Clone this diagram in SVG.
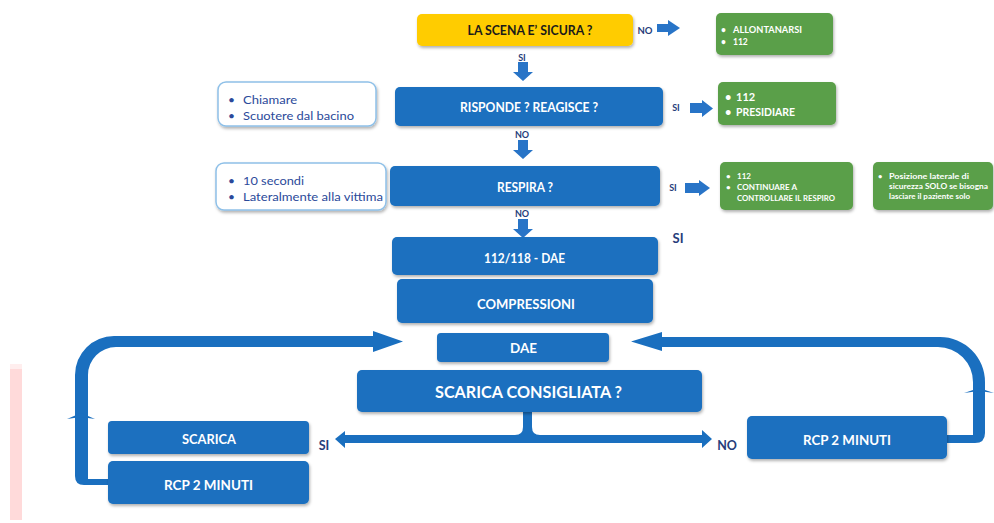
<svg xmlns="http://www.w3.org/2000/svg" width="994" height="523" viewBox="0 0 994 523">
<defs>
<filter id="sh" x="-10%" y="-20%" width="120%" height="150%">
<feDropShadow dx="1" dy="2" stdDeviation="1.6" flood-color="#000" flood-opacity="0.3"/>
</filter>
<style>
.blue{fill:#1a6fbf;filter:url(#sh)}
.green{fill:#5a9f48;filter:url(#sh)}
.yellow{fill:#ffcc00;filter:url(#sh)}
.white{fill:#fff;stroke:#8ec0e8;stroke-width:1.5;filter:url(#sh)}
.t{font-family:Lato,"Liberation Sans",sans-serif;font-weight:bold;fill:#fff;text-anchor:middle}
.tk{font-family:Lato,"Liberation Sans",sans-serif;font-weight:bold;fill:#1a1a1a;text-anchor:middle}
.g{font-family:Lato,"Liberation Sans",sans-serif;font-weight:bold;fill:#fff}
.w{font-family:Lato,"Liberation Sans",sans-serif;font-size:12px;fill:#2b4a9a}
.lb{font-family:Lato,"Liberation Sans",sans-serif;font-weight:bold;fill:#263d7a;text-anchor:middle}
.arr{fill:#2874c7}
.loop{fill:#1a6fbf}
</style>
</defs>
<rect x="10" y="364" width="12" height="6" fill="#ffeeee"/>
<rect x="10" y="369" width="12" height="151" fill="#ffdada"/>

<g id="connectors">
<polygon class="arr" points="657,24 668,24 668,20 680,28 668,36 668,32 657,32"/>
<polygon class="arr" points="518,62 528,62 528,72 533,72 523,81 513,72 518,72"/>
<polygon class="arr" points="690,103 702,103 702,100 713,108.5 702,117 702,113 690,113"/>
<polygon class="arr" points="518,140 528,140 528,150 533,150 523,159 513,150 518,150"/>
<polygon class="arr" points="685,183 699,183 699,180 710,188 699,196 699,193 685,193"/>
<polygon class="arr" points="518,219 528,219 528,229 533,229 523,238 513,229 518,229"/>
<path class="loop" d="M119,485 L84,485 Q75,485 75,476 L75,375 A39,39 0 0 1 114,336 L373,336 L373,331 L403,341.5 L373,352 L373,347 L116,347 A28,28 0 0 0 88,375 L88,479 L119,479 Z"/>
<rect x="110" y="479" width="9" height="6" fill="#4d8fd6"/>
<polygon class="loop" points="67,419 81,413 95,419 81,417"/>
<path class="loop" d="M947,435 L973,435 L973,382 A35,35 0 0 0 938,347 L662,347 L662,351 L631,341.5 L662,332 L662,337 L940,337 A45,45 0 0 1 985,382 L985,433 Q985,443 975,443 L947,443 Z"/>
<polygon class="loop" points="964,393 979,388 994,393 979,391"/>
<path class="loop" d="M523,411 L523,427 Q523,435 515,435 L345,435 L345,431 L335,439 L345,448 L345,443 L702,443 L702,448 L712,439 L702,430 L702,435 L540,435 Q532,435 532,427 L532,411 Z"/>
</g>

<g id="labels">
<text class="lb" x="645" y="33.5" font-size="9.5">NO</text>
<text class="lb" x="522" y="60.5" font-size="9">SI</text>
<text class="lb" x="676" y="111" font-size="9">SI</text>
<text class="lb" x="522" y="137.5" font-size="9">NO</text>
<text class="lb" x="673" y="191" font-size="9">SI</text>
<text class="lb" x="522" y="216.5" font-size="9">NO</text>
<text class="lb" x="678" y="243" font-size="13">SI</text>
<text class="lb" x="324" y="450" font-size="12.5">SI</text>
<text class="lb" x="727" y="449.5" font-size="12.5">NO</text>
</g>

<g id="n-scena">
<rect class="yellow" x="417" y="14" width="216" height="32" rx="5"/>
<text class="tk" x="530" y="34.5" font-size="12.5" textLength="125" lengthAdjust="spacingAndGlyphs">LA SCENA E’ SICURA ?</text>
</g>
<g id="n-allontanarsi">
<rect class="green" x="716" y="13" width="117" height="42" rx="5"/>
<text class="g" x="721" y="33" font-size="8.5">•</text>
<text class="g" x="733" y="33" font-size="8.5" textLength="69" lengthAdjust="spacingAndGlyphs">ALLONTANARSI</text>
<text class="g" x="721" y="45" font-size="8.5">•</text>
<text class="g" x="733" y="45" font-size="8.5">112</text>
</g>
<g id="n-chiamare">
<rect class="white" x="218" y="82" width="158" height="44" rx="8"/>
<text class="w" x="228" y="104">•</text>
<text class="w" x="243" y="104" textLength="54" lengthAdjust="spacingAndGlyphs">Chiamare</text>
<text class="w" x="228" y="120">•</text>
<text class="w" x="243" y="120" textLength="111" lengthAdjust="spacingAndGlyphs">Scuotere dal bacino</text>
</g>
<g id="n-risponde">
<rect class="blue" x="395" y="87" width="268" height="39" rx="5"/>
<text class="t" x="529" y="111.5" font-size="12.5" textLength="138" lengthAdjust="spacingAndGlyphs">RISPONDE ? REAGISCE ?</text>
</g>
<g id="n-presidiare">
<rect class="green" x="718" y="82" width="118" height="43" rx="5"/>
<text class="g" x="725" y="101" font-size="11">•</text>
<text class="g" x="736" y="101" font-size="11">112</text>
<text class="g" x="725" y="116" font-size="11">•</text>
<text class="g" x="736" y="116" font-size="11" textLength="59" lengthAdjust="spacingAndGlyphs">PRESIDIARE</text>
</g>
<g id="n-secondi">
<rect class="white" x="216" y="163" width="170" height="47" rx="8"/>
<text class="w" x="228" y="185">•</text>
<text class="w" x="243" y="185" textLength="61" lengthAdjust="spacingAndGlyphs">10 secondi</text>
<text class="w" x="228" y="201">•</text>
<text class="w" x="243" y="201" textLength="140" lengthAdjust="spacingAndGlyphs">Lateralmente alla vittima</text>
</g>
<g id="n-respira">
<rect class="blue" x="390" y="166" width="270" height="40" rx="5"/>
<text class="t" x="525" y="191.5" font-size="12.5" textLength="56" lengthAdjust="spacingAndGlyphs">RESPIRA ?</text>
</g>
<g id="n-continuare">
<rect class="green" x="720" y="162" width="133" height="48" rx="5"/>
<text class="g" x="726" y="179" font-size="8">•</text>
<text class="g" x="737" y="179" font-size="8">112</text>
<text class="g" x="726" y="190" font-size="8">•</text>
<text class="g" x="737" y="190" font-size="8" textLength="60" lengthAdjust="spacingAndGlyphs">CONTINUARE A</text>
<text class="g" x="737" y="201" font-size="8" textLength="98" lengthAdjust="spacingAndGlyphs">CONTROLLARE IL RESPIRO</text>
</g>
<g id="n-posizione">
<rect class="green" x="873" y="162" width="120" height="48" rx="5"/>
<text class="g" x="878" y="179" font-size="7.5">•</text>
<text class="g" x="889" y="179" font-size="7.5" textLength="80" lengthAdjust="spacingAndGlyphs">Posizione laterale di</text>
<text class="g" x="889" y="189" font-size="7.5" textLength="99" lengthAdjust="spacingAndGlyphs">sicurezza SOLO se bisogna</text>
<text class="g" x="889" y="199" font-size="7.5" textLength="81" lengthAdjust="spacingAndGlyphs">lasciare il paziente solo</text>
</g>
<g id="n-112118">
<rect class="blue" x="392" y="237" width="266" height="38" rx="5"/>
<text class="t" x="524.5" y="262.5" font-size="12.5" textLength="81" lengthAdjust="spacingAndGlyphs">112/118 - DAE</text>
</g>
<g id="n-compressioni">
<rect class="blue" x="397" y="279" width="256" height="44" rx="5"/>
<text class="t" x="526" y="309" font-size="14" textLength="98" lengthAdjust="spacingAndGlyphs">COMPRESSIONI</text>
</g>
<g id="n-dae">
<rect class="blue" x="437" y="333" width="172" height="29" rx="4"/>
<text class="t" x="523.5" y="352.5" font-size="13" textLength="27" lengthAdjust="spacingAndGlyphs">DAE</text>
</g>
<g id="n-scarica-consigliata">
<rect class="blue" x="357" y="370" width="345" height="42" rx="5"/>
<text class="t" x="528.5" y="398" font-size="17" textLength="187" lengthAdjust="spacingAndGlyphs">SCARICA CONSIGLIATA ?</text>
</g>
<g id="n-scarica">
<rect class="blue" x="108" y="421" width="201" height="33" rx="4"/>
<text class="t" x="209" y="443.5" font-size="13" textLength="54" lengthAdjust="spacingAndGlyphs">SCARICA</text>
</g>
<g id="n-rcp-left">
<rect class="blue" x="108" y="461" width="201" height="43" rx="5"/>
<text class="t" x="208.5" y="489.5" font-size="13" textLength="89" lengthAdjust="spacingAndGlyphs">RCP 2 MINUTI</text>
</g>
<g id="n-rcp-right">
<rect class="blue" x="747" y="416" width="200" height="43" rx="5"/>
<text class="t" x="847" y="444.5" font-size="13" textLength="88" lengthAdjust="spacingAndGlyphs">RCP 2 MINUTI</text>
</g>
</svg>
